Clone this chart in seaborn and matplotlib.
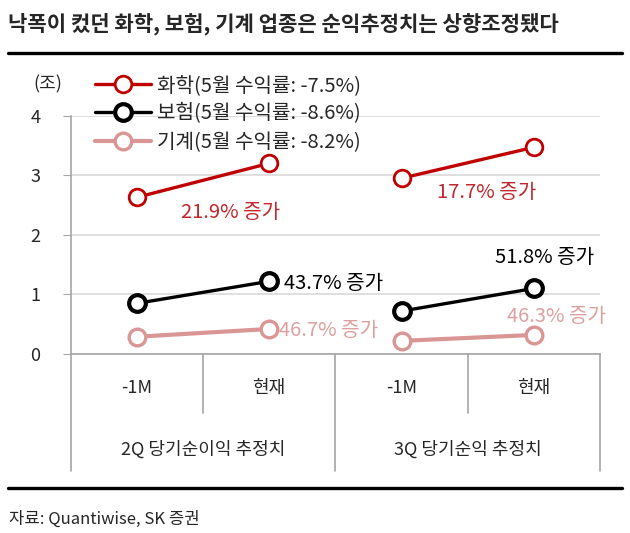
import matplotlib
matplotlib.use("Agg")
import matplotlib.pyplot as plt
from matplotlib.lines import Line2D
import matplotlib.transforms as mtransforms
import seaborn as sns
import pandas as pd

# ---- data ----
categories = ["-1M", "현재"]
groups = ["2Q 당기순이익 추정치", "3Q 당기순익 추정치"]
series = ["화학(5월 수익률: -7.5%)", "보험(5월 수익률: -8.6%)", "기계(5월 수익률: -8.2%)"]
chem = [2.63, 3.20, 2.95, 3.47]
ins = [0.85, 1.22, 0.72, 1.10]
mach = [0.29, 0.42, 0.22, 0.32]
growth_labels = [["21.9% 증가", "17.7% 증가"],
                 ["43.7% 증가", "51.8% 증가"],
                 ["46.7% 증가", "46.3% 증가"]]
yticks = [0, 1, 2, 3, 4]
title = "낙폭이 컸던 화학, 보험, 기계 업종은 순익추정치는 상향조정됐다"
unit = "(조)"
source = "자료: Quantiwise, SK 증권"

# ---- style ----
sns.set_style("white")
plt.rcParams["font.family"] = ["Noto Sans CJK KR", "DejaVu Sans"]
plt.rcParams["axes.unicode_minus"] = False

colors = ["#C00000", "#000000", "#D99694"]
text_colors = ["#C0282D", "#000000", "#DDA0A0"]
lws = [2.4, 2.4, 3.0]
mews = [2.0, 3.0, 2.4]

rows = []
for s_name, vals in zip(series, [chem, ins, mach]):
    for gi, g in enumerate(groups):
        for ci, c in enumerate(categories):
            rows.append({"series": s_name, "group": g, "cat": c,
                         "pos": gi * len(categories) + ci,
                         "value": vals[gi * len(categories) + ci]})
df = pd.DataFrame(rows)

W, H = 630, 533
fig = plt.figure(figsize=(W / 100, H / 100), dpi=100)
ax_left, ax_right = 70.7 / W, 600 / W
ax_bottom, ax_top = 1 - 354 / H, 1 - 115.7 / H
ax = fig.add_axes([ax_left, ax_bottom, ax_right - ax_left, ax_top - ax_bottom])

for i, s_name in enumerate(series):
    sub = df[df["series"] == s_name]
    sns.lineplot(data=sub, x="pos", y="value", units="group", estimator=None,
                 color=colors[i], lw=lws[i], marker="o", markersize=12,
                 markerfacecolor="white", markeredgecolor=colors[i],
                 markeredgewidth=mews[i], ax=ax, legend=False, zorder=5)

ax.set_xlim(-0.5, len(groups) * len(categories) - 0.5)
ax.set_ylim(0, 4)
ax.set_yticks(yticks)
ax.set_yticklabels([str(t) for t in yticks], fontsize=13)
ax.tick_params(axis="y", length=6, color="#A6A6A6", pad=16, direction="out", left=True)
ax.set_xticks([])
ax.set_xlabel("")
ax.set_ylabel("")
for sp in ["top", "right"]:
    ax.spines[sp].set_visible(False)
ax.spines["left"].set_color("#A6A6A6")
ax.spines["bottom"].set_color("#A6A6A6")
ax.spines["left"].set_linewidth(1.2)
ax.spines["bottom"].set_linewidth(1.2)
ax.yaxis.grid(True, color="#D9D9D9", lw=1.2)
ax.set_axisbelow(True)

# category axis (two levels)
trans = mtransforms.blended_transform_factory(ax.transData, ax.transAxes)
axh = 354 - 115.7
def yfrac(p):
    return (354 - p) / axh
ncat = len(groups) * len(categories)
for k in range(ncat + 1):
    xk = k - 0.5
    long_ = (k % len(categories) == 0)
    yend = yfrac(471) if long_ else yfrac(413)
    ax.plot([xk, xk], [0, yend], transform=trans, color="#A6A6A6", lw=1.2, clip_on=False)
for gi, g in enumerate(groups):
    for ci, c in enumerate(categories):
        ax.text(gi * len(categories) + ci, yfrac(388), c, transform=trans,
                ha="center", va="center", fontsize=13)
    ax.text(gi * len(categories) + (len(categories) - 1) / 2, yfrac(450), g,
            transform=trans, ha="center", va="center", fontsize=13)

# annotations
vals_all = [chem, ins, mach]
offsets = [[(-39, -49, "center"), (-47, -45, "center")],
           [(15, -2, "left"), (11, 31, "center")],
           [(10, -2, "left"), (23, 18, "center")]]
for si in range(3):
    for gi in range(len(groups)):
        p = gi * len(categories) + len(categories) - 1
        dx, dy, ha = offsets[si][gi]
        ax.annotate(growth_labels[si][gi], xy=(p, vals_all[si][p]), xytext=(dx, dy),
                    textcoords="offset pixels", ha=ha, va="center",
                    fontsize=14.5, color=text_colors[si], zorder=6)

# legend
handles = [Line2D([0], [0], color=colors[i], lw=lws[i], marker="o", markersize=12,
                  markerfacecolor="white", markeredgecolor=colors[i],
                  markeredgewidth=mews[i]) for i in range(3)]
fig.legend(handles, series, loc="upper left", bbox_to_anchor=(95 / W, 1 - 75 / H),
           bbox_transform=fig.transFigure, frameon=False, fontsize=14.5,
           handlelength=2.8, handletextpad=0.3, labelspacing=0.37,
           borderpad=0, borderaxespad=0)

fig.text(48 / W, 1 - 84 / H, unit, ha="center", va="center", fontsize=13)

# title and rules
fig.text(8 / W, 1 - 24 / H, title, ha="left", va="center", fontsize=15.2, fontweight="bold")
fig.add_artist(Line2D([8 / W, 622 / W], [1 - 53 / H] * 2, color="black", lw=2.4))
fig.add_artist(Line2D([8 / W, 622 / W], [1 - 488 / H] * 2, color="black", lw=2.4))
fig.text(9 / W, 1 - 519 / H, source, ha="left", va="center", fontsize=12)

fig.savefig("out.png", dpi=100, facecolor="white")
